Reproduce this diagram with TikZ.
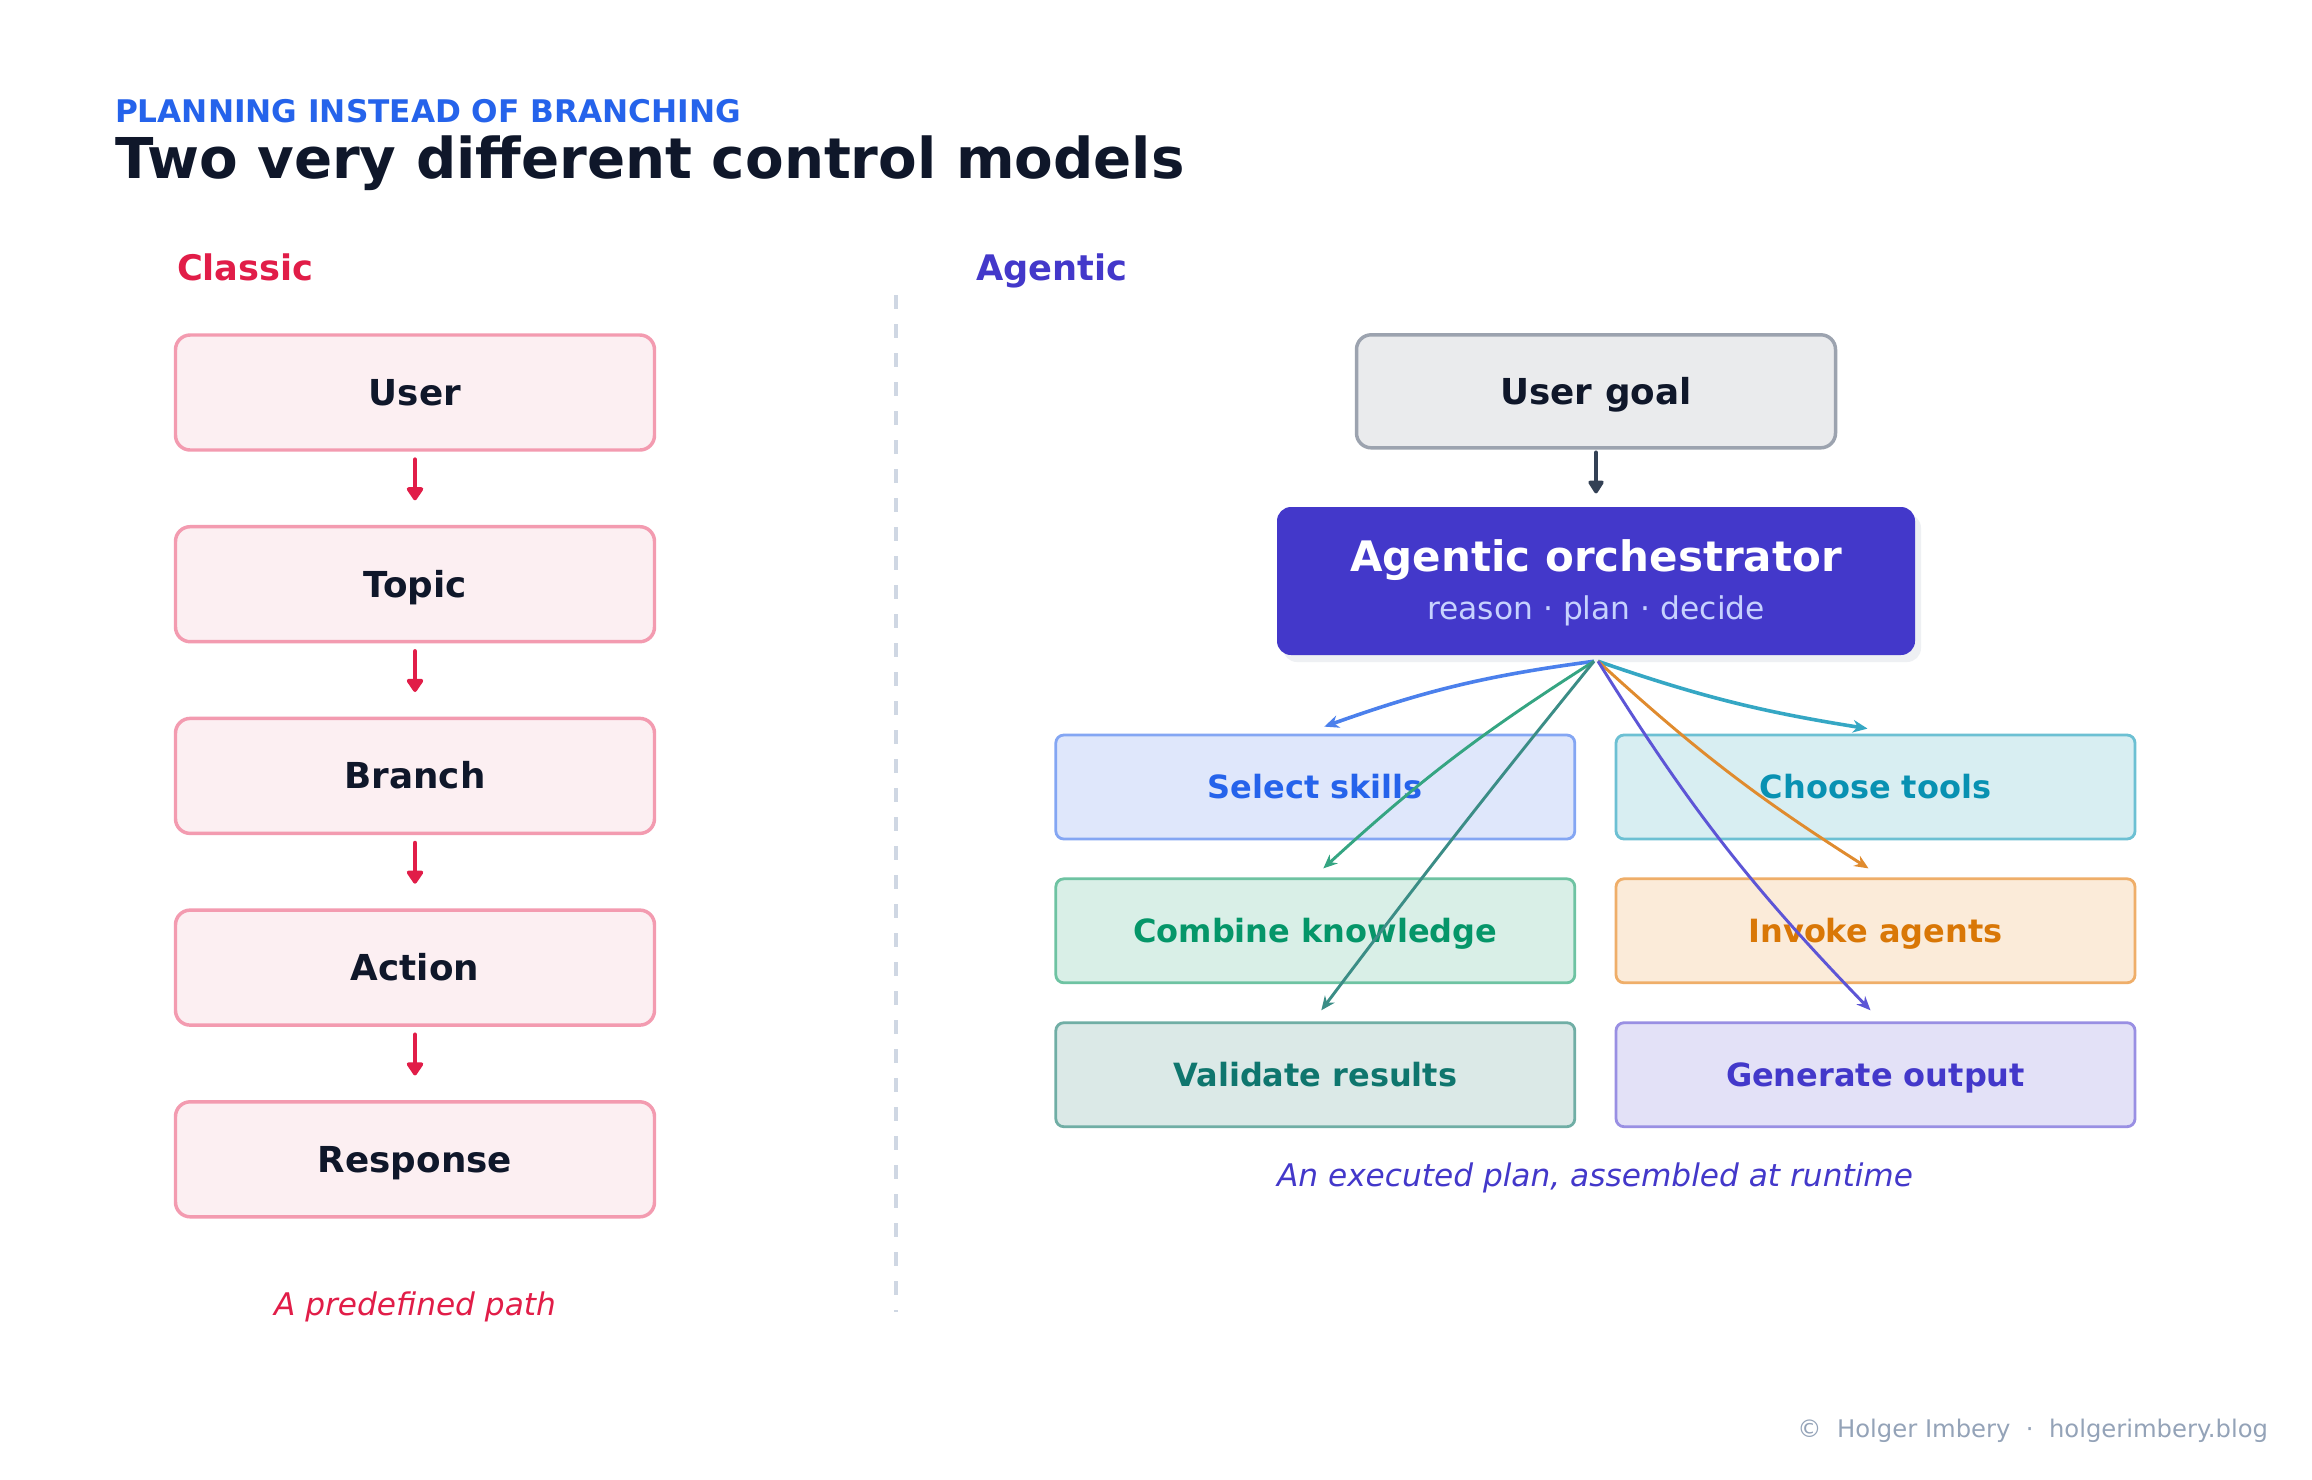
\documentclass[tikz,border=0pt]{standalone}
\usepackage{fontspec}
\setmainfont{DejaVu Sans}
\usetikzlibrary{arrows.meta,calc}
\definecolor{ink}{HTML}{0F172A}
\definecolor{kicker}{HTML}{2563EB}
\definecolor{rose}{HTML}{E11D48}
\definecolor{indigo}{HTML}{4338CA}
\definecolor{clsfill}{HTML}{FCEFF2}
\definecolor{clsdraw}{HTML}{F39BB0}
\definecolor{goalfill}{HTML}{EAEBED}
\definecolor{goaldraw}{HTML}{9CA3AF}
\definecolor{slate}{HTML}{334155}
\definecolor{orchsub}{HTML}{C7D2FE}
\definecolor{shadowc}{HTML}{EEF0F3}
\definecolor{dashc}{HTML}{CFD7E3}
\definecolor{footc}{HTML}{94A3B8}
\definecolor{selfill}{HTML}{DFE7FB}\definecolor{seldraw}{HTML}{84A6F3}\definecolor{seltext}{HTML}{2563EB}\definecolor{selarr}{HTML}{4B80EC}
\definecolor{chofill}{HTML}{D8EEF2}\definecolor{chodraw}{HTML}{6CC0D3}\definecolor{chotext}{HTML}{0891B2}\definecolor{choarr}{HTML}{35A7C4}
\definecolor{comfill}{HTML}{D9EFE7}\definecolor{comdraw}{HTML}{6EC3A2}\definecolor{comtext}{HTML}{059669}\definecolor{comarr}{HTML}{35A582}
\definecolor{invfill}{HTML}{FBEBD9}\definecolor{invdraw}{HTML}{EFAE69}\definecolor{invtext}{HTML}{D97706}\definecolor{invarr}{HTML}{E08B2E}
\definecolor{valfill}{HTML}{DBE9E7}\definecolor{valdraw}{HTML}{70AEA5}\definecolor{valtext}{HTML}{0F766E}\definecolor{valarr}{HTML}{3B8D86}
\definecolor{genfill}{HTML}{E3E1F7}\definecolor{gendraw}{HTML}{998FE3}\definecolor{gentext}{HTML}{4338CA}\definecolor{genarr}{HTML}{5D55D6}
\begin{document}
\begin{tikzpicture}[x=0.75pt,y=0.75pt,
  txt/.style={inner sep=0pt,outer sep=0pt},
  classbox/.style={draw=clsdraw,fill=clsfill,line width=2.6pt,rounded corners=11pt,
    minimum width=359.25pt,minimum height=86.25pt,inner sep=0pt,text height=19.4pt,text depth=0pt,
    font=\fontsize{26.8}{32}\selectfont\bfseries,text=ink},
  goalbox/.style={draw=goaldraw,fill=goalfill,line width=2.6pt,rounded corners=11pt,
    minimum width=359.25pt,minimum height=84.75pt,inner sep=0pt,text height=19.4pt,text depth=0pt,
    font=\fontsize{26.8}{32}\selectfont\bfseries,text=ink},
  gridbox/.style={line width=2.1pt,rounded corners=6pt,
    minimum width=389.25pt,minimum height=78pt,inner sep=0pt,text height=17.5pt,text depth=0pt,
    font=\fontsize{24}{29}\selectfont\bfseries},
  redarrow/.style={draw=rose,line width=3.6pt,line cap=round,-{Triangle[length=11pt,width=14pt,round]}},
  darkarrow/.style={draw=slate,line width=3.6pt,line cap=round,-{Triangle[length=11pt,width=13pt,round]}},
  fanarrow/.style={line width=2.2pt,-{Stealth[length=10.5pt,width=9pt]}},
  fanwide/.style={line width=2.7pt,-{Stealth[length=11pt,width=9.5pt]}}
]
\useasboundingbox (0,0) rectangle (2312,-1479);
\fill[white] (0,0) rectangle (2312,-1479);

% headings
\node[txt,anchor=base west,text=kicker,font=\fontsize{23.4}{28}\selectfont\bfseries] (kick) at (115,-122.5) {PLANNING INSTEAD OF BRANCHING};
\node[txt,anchor=base west,text=ink,font=\fontsize{42.2}{50}\selectfont\bfseries] (title) at (115,-178.5) {Two very different control models};
\node[txt,anchor=base west,text=rose,font=\fontsize{26.4}{32}\selectfont\bfseries] (classic) at (177,-280) {Classic};
\node[txt,anchor=base west,text=indigo,font=\fontsize{26.4}{32}\selectfont\bfseries] (agentic) at (976,-280) {Agentic};

% divider
\coordinate (dtop) at (896,-295);
\coordinate (dbot) at (896,-1312);
\draw[dashc,line width=3pt,dash pattern=on 10.5pt off 11.25pt] (dtop) -- (dbot);

% classic column
\node[classbox] (user) at (415,-392.5) {User};
\node[classbox] (topic) at (415,-584.2) {Topic};
\node[classbox] (branch) at (415,-775.9) {Branch};
\node[classbox] (action) at (415,-967.6) {Action};
\node[classbox] (resp) at (415,-1159.3) {Response};
\foreach \a/\b in {user/topic,topic/branch,branch/action,action/resp}
  \draw[redarrow,shorten <=6pt,shorten >=18.5pt] (\a) -- (\b);
\node[txt,anchor=base,text=rose,font=\fontsize{23.4}{28}\selectfont\itshape] (pre) at (415,-1315) {A predefined path};

% agentic column
\node[goalbox] (goal) at (1596,-391.3) {User goal};
\fill[shadowc,rounded corners=10.5pt] (1283,-514) rectangle (1921,-662);
\node[fill=indigo,rounded corners=10.5pt,minimum width=478.5pt,minimum height=111pt,inner sep=0pt] (orch) at (1596,-581) {};
\node[txt,anchor=base,text=white,font=\fontsize{31.5}{38}\selectfont\bfseries] (orchT) at (1596,-571) {Agentic orchestrator};
\node[txt,anchor=base,text=orchsub,font=\fontsize{23.5}{28}\selectfont] (orchS) at (1596,-619) {reason · plan · decide};
\draw[darkarrow,shorten <=2.5pt,shorten >=10pt] (goal) -- (orch);

\node[gridbox,draw=seldraw,fill=selfill,text=seltext] (sel) at (1315.3,-787) {Select skills};
\node[gridbox,draw=chodraw,fill=chofill,text=chotext] (cho) at (1875.5,-787) {Choose tools};
\node[gridbox,draw=comdraw,fill=comfill,text=comtext] (com) at (1315.3,-930.8) {Combine knowledge};
\node[gridbox,draw=invdraw,fill=invfill,text=invtext] (inv) at (1875.5,-930.8) {Invoke agents};
\node[gridbox,draw=valdraw,fill=valfill,text=valtext] (val) at (1315.3,-1074.7) {Validate results};
\node[gridbox,draw=gendraw,fill=genfill,text=gentext] (gen) at (1875.5,-1074.7) {Generate output};

\coordinate (fanL) at ($(orch.south)+(-2,-6)$);
\coordinate (fanR) at ($(orch.south)+(2,-6)$);
\draw[fanwide,selarr] (fanL) to[bend right=6] ($(sel.north)+(9,7)$);
\draw[fanwide,choarr] (fanR) to[bend right=5] ($(cho.north)+(-8,5)$);
\draw[fanarrow,comarr] (fanL) to[bend right=5] ($(com.north)+(8,9)$);
\draw[fanarrow,invarr] (fanR) to[bend right=5] ($(inv.north)+(-7,9)$);
\draw[fanarrow,valarr] (fanL) to[bend right=1] ($(val.north)+(6,11)$);
\draw[fanarrow,genarr] (fanR) to[bend right=6] ($(gen.north)+(-5,11)$);

\node[txt,anchor=base,text=indigo,font=\fontsize{23.4}{28}\selectfont\itshape] (exec) at (1595,-1186.5) {An executed plan, assembled at runtime};

% footer
\node[txt,anchor=base east,text=footc,font=\fontsize{18.2}{22}\selectfont] (foot) at (2268,-1437) {©~~Holger Imbery~~·~~holgerimbery.blog};
\end{tikzpicture}
\end{document}
